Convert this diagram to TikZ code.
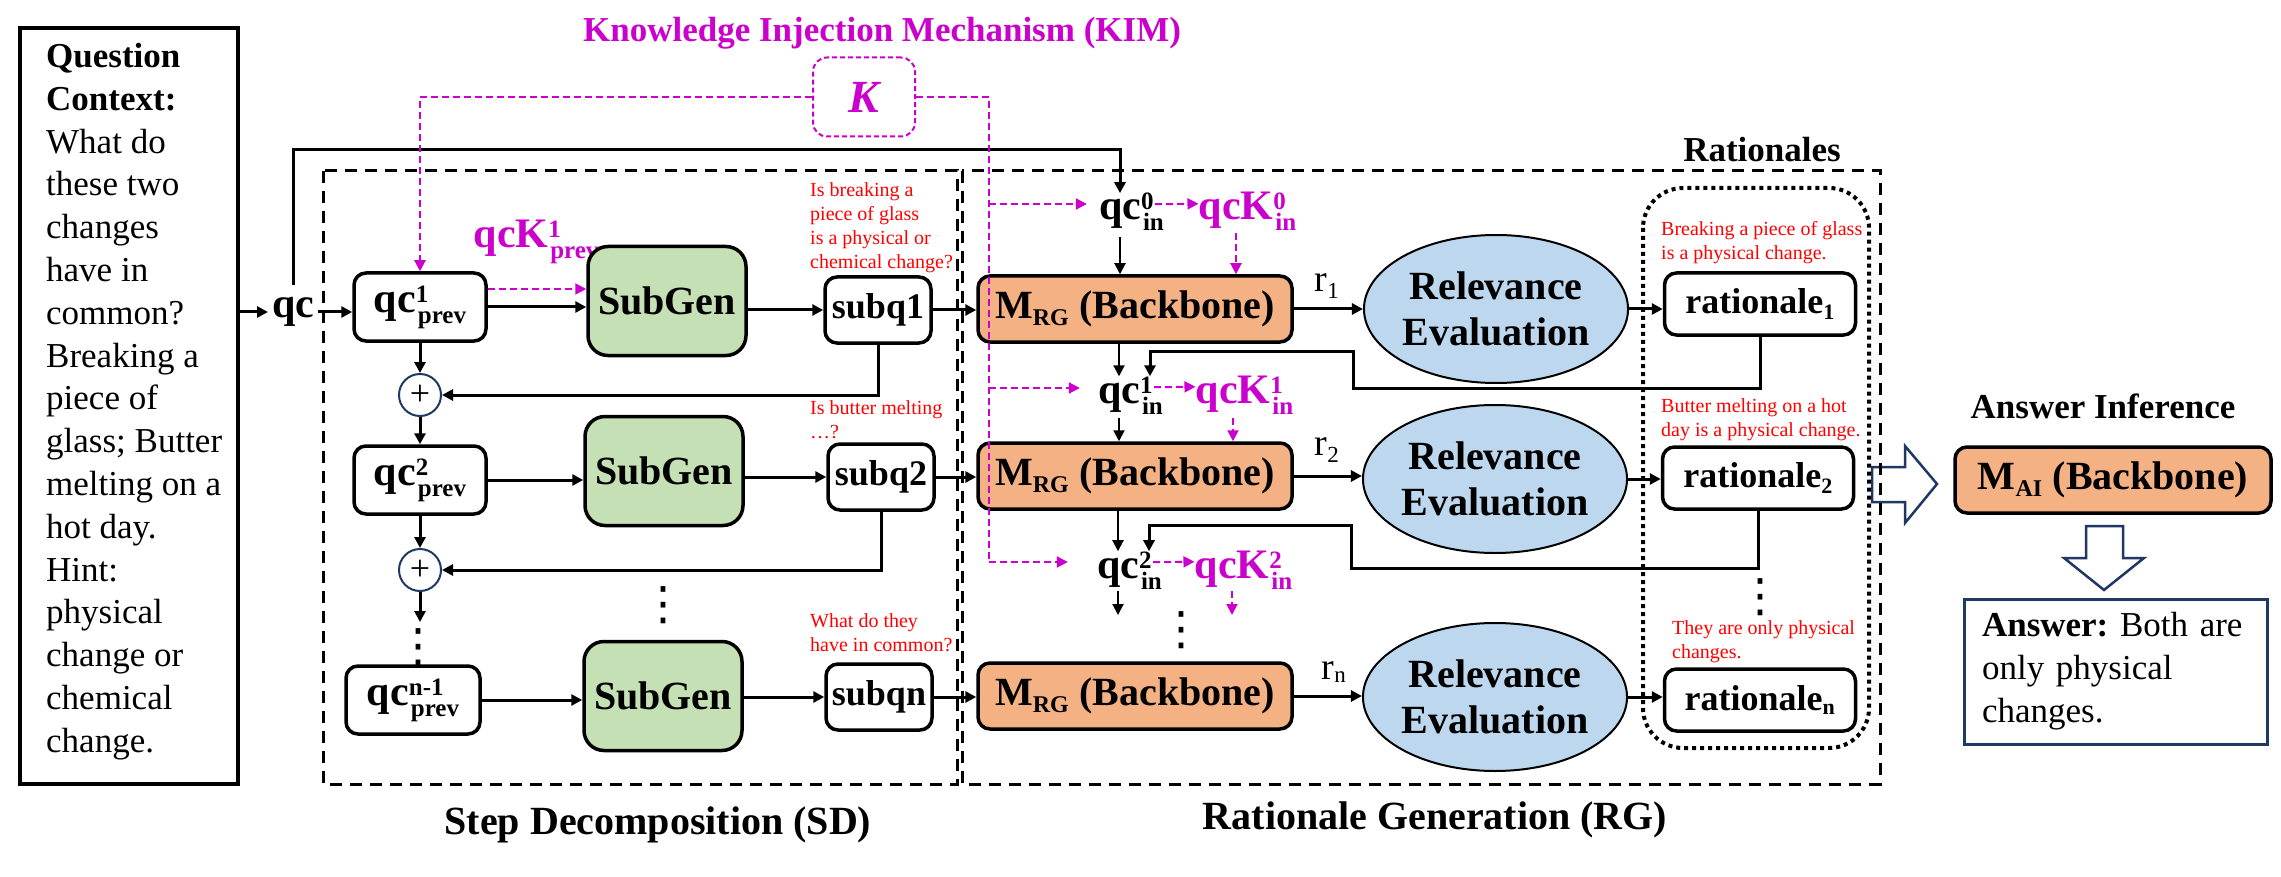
\documentclass[tikz,border=0pt]{standalone}
\usepackage{amsmath}
\usepackage{fontspec}
\setmainfont{Liberation Serif}
\newfontfamily\symfont{DejaVu Sans}
\usetikzlibrary{arrows.meta,shapes.geometric,calc}
\definecolor{kimpink}{RGB}{204,0,204}
\definecolor{subgreen}{RGB}{197,224,180}
\definecolor{bborange}{RGB}{244,177,131}
\definecolor{relblue}{RGB}{189,215,238}
\definecolor{ansnavy}{RGB}{31,56,100}
\DeclareMathSizes{40}{40}{24}{17}
\DeclareMathSizes{38}{38}{23}{17}
\DeclareMathSizes{36}{36}{22}{16}
\newcommand{\qcscripts}[2]{\rlap{\raisebox{10pt}{\fontsize{25}{25}\selectfont #1}}\raisebox{-11pt}{\kern2pt\fontsize{25}{25}\selectfont #2}}

\begin{document}
\begin{tikzpicture}
            [every node/.style={inner sep=0pt},
             >={Triangle[length=11pt,width=11pt]},
             box/.style={draw=black, line width=3.5pt, rounded corners=12pt, fill=white, font=\fontsize{40}{46}\selectfont\bfseries},
             qcbox/.style={box, minimum width=132pt, minimum height=68pt, font=\fontsize{42}{46}\selectfont\bfseries},
             subgen/.style={box, fill=subgreen, minimum width=158pt, minimum height=109pt, rounded corners=20pt},
             subq/.style={box, minimum width=106pt, minimum height=66pt, font=\fontsize{36}{40}\selectfont\bfseries},
             backbone/.style={box, fill=bborange, minimum width=314pt, minimum height=66pt},
             releval/.style={ellipse, draw=black, line width=2pt, fill=relblue, minimum width=236pt, minimum height=148pt, align=center, font=\fontsize{40}{46}\selectfont\bfseries},
             ratbox/.style={box, minimum width=191pt, minimum height=62pt, font=\fontsize{36}{40}\selectfont\bfseries},
             sumnode/.style={circle, draw=ansnavy, line width=2pt, fill=white, minimum size=42pt, font=\fontsize{36}{36}\selectfont},
             qclabel/.style={anchor=base, font=\fontsize{42}{46}\selectfont\bfseries},
             kimlabel/.style={qclabel, text=kimpink},
             rlabel/.style={font=\fontsize{38}{40}\selectfont},
             note/.style={anchor=west, align=left, text=red, font=\fontsize{20}{24}\selectfont},
             headlabel/.style={font=\fontsize{35}{40}\selectfont\bfseries},
             sectitle/.style={font=\fontsize{40}{46}\selectfont\bfseries},
             dotsnode/.style={font=\fontsize{46}{46}\selectfont\symfont},
             flow/.style={line width=3pt, ->},
             thinflow/.style={line width=2pt, ->},
             kline/.style={draw=kimpink, line width=2pt, dash pattern=on 7pt off 4pt},
             kflow/.style={kline, ->},
             secbox/.style={line width=3pt, dash pattern=on 12pt off 8pt},
             ratframe/.style={line width=4pt, dash pattern=on 4pt off 4pt, rounded corners=40pt},
             hollow/.style={draw=ansnavy, line width=2.5pt, fill=white, line join=miter}]
                \path [use as bounding box, fill=white] (0pt, 0pt) rectangle (2281pt, -877pt);
                \node (ctx) [draw=black, line width=3.5pt, minimum width=218pt, minimum height=756pt] at (129pt, -406pt) {};
                \node (ctxtext) [anchor=north west, align=left, font=\fontsize{35}{42.8}\selectfont] at (46pt, -43pt) {\textbf{Question}\\\textbf{Context:}\\What do\\these two\\changes\\have in\\common?\\Breaking a\\piece of\\glass; Butter\\melting on a\\hot day.\\Hint:\\physical\\change or\\chemical\\change.};
                \node (qc) [font=\fontsize{42}{46}\selectfont\bfseries, outer xsep=4pt] at (293pt, -312pt) {qc};
                \node (kimtitle) [headlabel, text=kimpink] at (882pt, -33pt) {Knowledge Injection Mechanism (KIM)};
                \node (kbox) [draw=kimpink, line width=2pt, dash pattern=on 5pt off 3pt, rounded corners=14pt, minimum width=102pt, minimum height=79pt, text=kimpink, font=\fontsize{46}{46}\selectfont\bfseries\itshape] at (864pt, -97pt) {K};
                \node (qcp1) [qcbox] at (420pt, -307pt) {qc\qcscripts{1}{prev}};
                \node (qcK1p) [kimlabel] at (511pt, -248pt) {qcK\rlap{\qcscripts{1}{prev}}};
                \node (sg1) [subgen] at (667pt, -301pt) {SubGen};
                \node (sq1) [subq] at (878pt, -310pt) {subq1};
                \node (plus1) [sumnode] at (420pt, -395pt) {+};
                \node (qcp2) [qcbox] at (420pt, -480pt) {qc\qcscripts{2}{prev}};
                \node (sg2) [subgen] at (664pt, -471pt) {SubGen};
                \node (sq2) [subq] at (881pt, -477pt) {subq2};
                \node (plus2) [sumnode] at (420pt, -570pt) {+};
                \node (qcdots) [dotsnode] at (418pt, -647pt) {⋮};
                \node (sgdots) [dotsnode] at (663pt, -605pt) {⋮};
                \node (qcpn) [qcbox, minimum width=134pt] at (413pt, -700pt) {qc\qcscripts{n-1}{prev}};
                \node (sg3) [subgen] at (663pt, -696pt) {SubGen};
                \node (sqn) [subq] at (879pt, -697pt) {subqn};
                \node (q1note) [note] at (810pt, -228pt) {Is breaking a\\piece of glass\\is a physical or\\chemical change?};
                \node (q2note) [note] at (810pt, -420pt) {Is butter melting\\\dots?};
                \node (qnnote) [note] at (810pt, -633pt) {What do they\\have in common?};
                \node (qc0in) [qclabel] at (1120pt, -220pt) {qc\rlap{\qcscripts{0}{in}}};
                \node (qcK0in) [kimlabel] at (1236pt, -220pt) {qcK\rlap{\qcscripts{0}{in}}};
                \node (rg1) [backbone] at (1135pt, -309pt) {M$_{\text{RG}}$ (Backbone)};
                \node (r1) [rlabel] at (1327pt, -286pt) {r$_{\text{1}}$};
                \node (ev1) [releval] at (1496pt, -309pt) {Relevance\\Evaluation};
                \node (rat1) [ratbox] at (1760pt, -304pt) {rationale$_{\text{1}}$};
                \node (r1note) [note] at (1661pt, -243pt) {Breaking a piece of glass\\is a physical change.};
                \node (qc1in) [qclabel] at (1119pt, -403pt) {qc\rlap{\qcscripts{1}{in}}};
                \node (qcK1in) [kimlabel] at (1233pt, -403pt) {qcK\rlap{\qcscripts{1}{in}}};
                \node (rg2) [backbone] at (1135pt, -476pt) {M$_{\text{RG}}$ (Backbone)};
                \node (r2) [rlabel] at (1327pt, -450pt) {r$_{\text{2}}$};
                \node (ev2) [releval] at (1495pt, -479pt) {Relevance\\Evaluation};
                \node (rat2) [ratbox] at (1758pt, -478pt) {rationale$_{\text{2}}$};
                \node (r2note) [note] at (1661pt, -420pt) {Butter melting on a hot\\day is a physical change.};
                \node (qc2in) [qclabel] at (1118pt, -578pt) {qc\rlap{\qcscripts{2}{in}}};
                \node (qcK2in) [kimlabel] at (1232pt, -578pt) {qcK\rlap{\qcscripts{2}{in}}};
                \node (rgdots) [dotsnode] at (1181pt, -630pt) {⋮};
                \node (rg3) [backbone] at (1135pt, -696pt) {M$_{\text{RG}}$ (Backbone)};
                \node (rn) [rlabel] at (1334pt, -672pt) {r$_{\text{n}}$};
                \node (ev3) [releval] at (1495pt, -697pt) {Relevance\\Evaluation};
                \node (ratn) [ratbox] at (1760pt, -700pt) {rationale$_{\text{n}}$};
                \node (ratdots) [dotsnode] at (1760pt, -597pt) {⋮};
                \node (rnnote) [note] at (1672pt, -642pt) {They are only physical\\changes.};
                \node (rattitle) [headlabel] at (1762pt, -150pt) {Rationales};
                \node (aititle) [headlabel] at (2103pt, -406pt) {Answer Inference};
                \node (mai) [backbone, minimum width=316pt] at (2113pt, -480pt) {M$_{\text{AI}}$ (Backbone)};
                \node (ans) [draw=ansnavy, line width=3pt, minimum width=303pt, minimum height=145pt, text width=267pt, align=left, font=\fontsize{35}{43}\selectfont] at (2115.5pt, -671.5pt) {\textbf{Answer:}\ Both are\\only physical\\changes.};
                \node (sdtitle) [sectitle] at (658pt, -825pt) {Step Decomposition (SD)};
                \node (rgtitle) [sectitle] at (1435pt, -820pt) {Rationale Generation (RG)};
                \coordinate (topbend) at (700pt, -150pt);
                \coordinate (kd0) at (989pt, -204pt);
                \coordinate (kd1) at (989pt, -388pt);
                \coordinate (kd2) at (989pt, -562pt);
                \coordinate (fb1a) at (1353pt, -388pt);
                \coordinate (fb1b) at (1353pt, -351pt);
                \coordinate (fb2a) at (1351pt, -568pt);
                \coordinate (fb2b) at (1351pt, -525pt);
                \coordinate (rgend) at (1124pt, -615pt);
                \coordinate (plus2end) at (420pt, -622pt);
                \draw [hollow] (1872pt, -467pt) -- (1905pt, -467pt) -- (1905pt, -446pt) -- (1937pt, -484pt) -- (1905pt, -523pt) -- (1905pt, -502pt) -- (1872pt, -502pt) -- cycle;
                \draw [hollow] (2086pt, -526pt) -- (2123pt, -526pt) -- (2123pt, -558pt) -- (2144pt, -558pt) -- (2104pt, -590pt) -- (2064pt, -558pt) -- (2086pt, -558pt) -- cycle;
                \draw [secbox] (323pt, -171pt) rectangle (957pt, -784pt);
                \draw [secbox] (962pt, -171pt) rectangle (1880pt, -784pt);
                \draw [ratframe] (1643pt, -188pt) rectangle (1869pt, -748pt);
                \draw [flow] (ctx.east |- qc) to (qc);
                \draw [flow] (qc) to (qc -| qcp1.west);
                \draw [flow, shorten <=12pt] (qc.north) |- (topbend) -| (qc0in.north);
                \draw [flow] (qcp1) to (qcp1 -| sg1.west);
                \draw [kflow] ($(qcp1.east)+(0,18pt)$) to ($(qcp1.east -| sg1.west)+(0,18pt)$);
                \draw [flow] (sg1.east |- sq1) to (sq1);
                \draw [flow] (sq1) to (sq1 -| rg1.west);
                \draw [flow] (sq1.south) |- (plus1);
                \draw [flow] (qcp1) to (plus1);
                \draw [flow] (plus1) to (qcp2);
                \draw [flow] (qcp2) to (qcp2 -| sg2.west);
                \draw [flow] (sg2.east |- sq2) to (sq2);
                \draw [flow] (sq2) to (sq2 -| rg2.west);
                \draw [flow] (sq2.south) |- (plus2);
                \draw [flow] (qcp2) to (plus2);
                \draw [flow] (plus2) to (plus2end);
                \draw [flow] (qcpn) to (qcpn -| sg3.west);
                \draw [flow] (sg3.east |- sqn) to (sqn);
                \draw [flow] (sqn) to (sqn -| rg3.west);
                \draw [flow] (rg1) to (ev1);
                \draw [flow] (ev1) to (ev1 -| rat1.west);
                \draw [flow] (rg2) to (rg2 -| ev2.west);
                \draw [flow] (ev2) to (ev2 -| rat2.west);
                \draw [flow] (rg3) to (rg3 -| ev3.west);
                \draw [flow] (ev3) to (ev3 -| ratn.west);
                \draw [thinflow, shorten <=6pt] (qc0in.south) to (qc0in.south |- rg1.north);
                \draw [kflow, shorten <=2pt] (qcK0in.south) to (qcK0in.south |- rg1.north);
                \draw [kflow] ($(qc0in.east)+(14pt,8pt)$) to ($(qcK0in.west)+(0,8pt)$);
                \draw [thinflow] (qc1in.north |- rg1.south) to (qc1in.north);
                \draw [thinflow, shorten <=4pt] (qc1in.south) to (qc1in.south |- rg2.north);
                \draw [kflow] ($(qc1in.east)+(14pt,8pt)$) to ($(qcK1in.west)+(0,8pt)$);
                \draw [kflow, shorten <=4pt] (qcK1in.south) to (qcK1in.south |- rg2.north);
                \draw [flow] (rat1.south) |- (fb1a) -- (fb1b) -| ($(qc1in.north)+(31pt,0)$);
                \draw [thinflow] (qc2in.north |- rg2.south) to (qc2in.north);
                \draw [flow] (rat2.south) |- (fb2a) -- (fb2b) -| ($(qc2in.north)+(31pt,0)$);
                \draw [kflow] ($(qc2in.east)+(14pt,8pt)$) to ($(qcK2in.west)+(0,8pt)$);
                \draw [thinflow, shorten <=2pt] (qc2in.south) to (qc2in.south |- rgend);
                \draw [kflow, shorten <=2pt] (qcK2in.south) to (qcK2in.south |- rgend);
                \draw [kflow] (kbox.west) -| (qcp1.north);
                \draw [kline] (kbox.east) -| (kd2);
                \draw [kflow] (kd0) to ($(kd0 -| qc0in.west)+(-12pt,0)$);
                \draw [kflow] (kd1) to ($(kd1 -| qc1in.west)+(-18pt,0)$);
                \draw [kflow] (kd2) to ($(kd2 -| qc2in.west)+(-29pt,0)$);
            \end{tikzpicture}
\end{document}
